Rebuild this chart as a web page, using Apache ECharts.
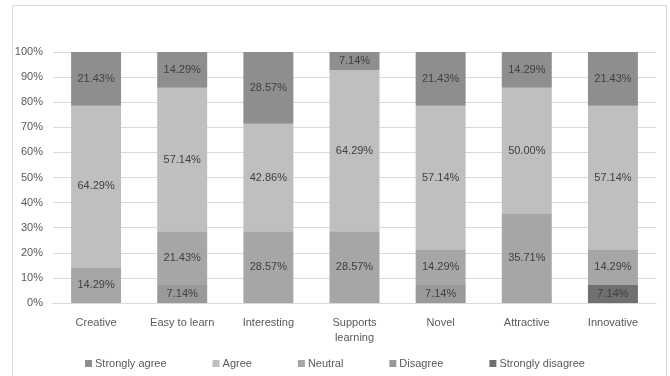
<!DOCTYPE html>
<html><head><meta charset="utf-8">
<script src="https://cdn.jsdelivr.net/npm/echarts@6/dist/echarts.min.js"></script>
<style>html,body{margin:0;padding:0;background:#fff}#c{width:670px;height:376px}</style>
</head><body><div id="c"></div>
<script>
const categories = ['Creative','Easy to learn','Interesting','Supports\nlearning','Novel','Attractive','Innovative'];
const stronglyDisagree = [0,0,0,0,0,0,7.14];
const disagree = [0,7.14,0,0,7.14,0,0];
const neutral = [14.29,21.43,28.57,28.57,14.29,35.71,14.29];
const agree = [64.29,57.14,42.86,64.29,57.14,50.00,57.14];
const stronglyAgree = [21.43,14.29,28.57,7.14,21.43,14.29,21.43];
const yTicks = [0,10,20,30,40,50,60,70,80,90,100];

const font = 'Liberation Sans';
const chart = echarts.init(document.getElementById('c'));
function s(name, data, color){
  return {name, type:'bar', stack:'t', data, barWidth:'58%',
    itemStyle:{color},
    label:{show:true, position:'inside', formatter:p=>p.value>0?p.value.toFixed(2)+'%':'', color:'#404040', fontSize:11, fontFamily:font}};
}
chart.setOption({
  animation:false,
  graphic:[{type:'rect', shape:{x:12.5,y:5.5,width:654,height:380}, style:{fill:'none', stroke:'#d9d9d9', lineWidth:1}}],
  grid:{left:53, right:14, top:52, bottom:73},
  legend:{top:353, left:'center', itemWidth:7, itemHeight:7, itemGap:46, icon:'rect',
    data:['Strongly agree','Agree','Neutral','Disagree','Strongly disagree'],
    textStyle:{color:'#595959', fontSize:11, fontFamily:font, padding:[0,0,0,-2]}},
  xAxis:{type:'category', data:categories,
    axisLine:{lineStyle:{color:'#d9d9d9'}}, axisTick:{show:false},
    axisLabel:{color:'#595959', fontSize:11, fontFamily:font, margin:12, lineHeight:15}},
  yAxis:{type:'value', min:0, max:100, interval:10,
    axisLabel:{color:'#595959', fontSize:11, fontFamily:font, formatter:v=>yTicks.includes(v)?v+'%':'', margin:10},
    splitLine:{lineStyle:{color:'#d9d9d9'}}, axisLine:{show:false}, axisTick:{show:false}},
  series:[
    s('Strongly disagree', stronglyDisagree, '#707070'),
    s('Disagree', disagree, '#999999'),
    s('Neutral', neutral, '#a6a6a6'),
    s('Agree', agree, '#bfbfbf'),
    s('Strongly agree', stronglyAgree, '#8e8e8e')
  ]
});
</script></body></html>
